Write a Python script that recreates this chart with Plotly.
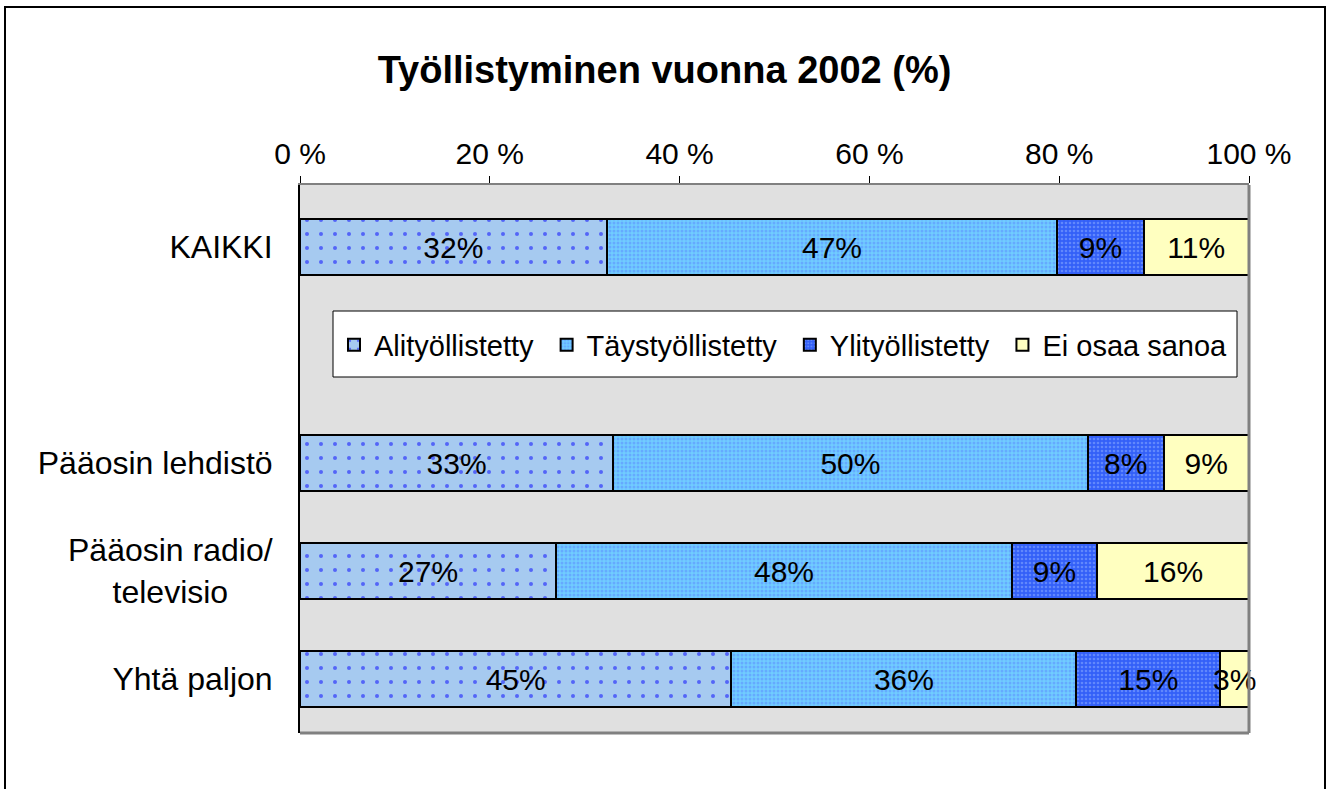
import plotly.graph_objects as go

categories = ["KAIKKI", "Pääosin lehdistö", "Pääosin radio/<br>televisio\u00a0\u00a0\u00a0\u00a0\u00a0", "Yhtä paljon"]
cat_pos = [0, 2, 3, 4]
series_names = ["Alityöllistetty", "Täystyöllistetty", "Ylityöllistetty", "Ei osaa sanoa"]
alityo = [32, 33, 27, 45]
taysty = [47, 50, 48, 36]
ylityo = [9, 8, 9, 15]
ei_osaa = [11, 9, 16, 3]
x_ticks = [0, 20, 40, 60, 80, 100]

title = "Työllistyminen vuonna 2002 (%)"
FONT = "Liberation Sans, Arial, sans-serif"

styles = [
    dict(bg="#a6caf0", shape=".", fg="#0000ff", size=14, sol=0.065),
    dict(bg="#70ccff", shape=".", fg="#5a88ff", size=4, sol=0.45),
    dict(bg="#3360f8", shape=".", fg="#8fb0ff", size=4, sol=0.35),
    dict(bg="#ffffc0", shape="", fg="#ffffc0", size=8, sol=0.1),
]

fig = go.Figure()
for name, vals, st in zip(series_names, [alityo, taysty, ylityo, ei_osaa], styles):
    fig.add_trace(go.Bar(
        name=name + "\u00a0",
        y=cat_pos,
        x=vals,
        orientation="h",
        width=0.52,
        text=[f"{v}%" for v in vals],
        textposition="inside",
        insidetextanchor="middle",
        textangle=0,
        constraintext="none",
        cliponaxis=False,
        textfont=dict(family=FONT, size=30, color="black"),
        marker=dict(
            color=st["bg"],
            line=dict(color="black", width=2),
            pattern=dict(shape=st["shape"], fgcolor=st["fg"], bgcolor=st["bg"],
                         size=st["size"], solidity=st["sol"], fillmode="overlay"),
        ),
        hoverinfo="skip",
    ))

L, R, T, B = 300, 80, 185, 56
W, H = 1329, 789
pw, ph = W - L - R, H - T - B

def px_x(p):
    return (p - L) / pw

def px_y(p):
    return (H - B - p) / ph

fig.update_layout(
    width=W, height=H,
    barmode="stack", barnorm="percent",
    paper_bgcolor="white", plot_bgcolor="#e0e0e0",
    margin=dict(l=L, r=R, t=T, b=B),
    font=dict(family=FONT, size=30, color="black"),
    title=dict(text=f"<b>{title}</b>", x=0.5, xref="container", xanchor="center",
               y=1 - 70 / H, yref="container", yanchor="middle",
               font=dict(family=FONT, size=38, color="black")),
    showlegend=True,
    legend=dict(orientation="h", x=px_x(334), y=px_y(345), xanchor="left", yanchor="middle",
                bgcolor="rgba(0,0,0,0)", borderwidth=0,
                font=dict(family=FONT, size=29, color="black"),
                traceorder="normal", itemwidth=30),
    xaxis=dict(side="top", range=[0, 100.0001], tickvals=x_ticks,
               ticktext=[f"{t} %" for t in x_ticks],
               showgrid=False, zeroline=False,
               ticks="outside", ticklen=7, tickcolor="black", tickwidth=1,
               showline=True, linecolor="#808080", linewidth=2,
               tickfont=dict(family=FONT, size=30)),
    yaxis=dict(range=[4.5, -0.575], tickvals=cat_pos, ticktext=categories,
               showgrid=False, zeroline=False, ticks="",
               showline=True, linecolor="black", linewidth=2,
               ticklabelstandoff=19,
               tickfont=dict(family=FONT, size=32)),
    shapes=[
        dict(type="rect", xref="paper", yref="paper",
             x0=px_x(333), x1=px_x(1237), y0=px_y(377), y1=px_y(311),
             line=dict(color="black", width=1), fillcolor="white", layer="below"),
        dict(type="line", xref="paper", yref="paper", x0=1, x1=1, y0=0, y1=1,
             line=dict(color="#808080", width=3)),
        dict(type="line", xref="paper", yref="paper", x0=0, x1=1, y0=0, y1=0,
             line=dict(color="#808080", width=3)),
        dict(type="rect", xref="paper", yref="paper",
             x0=px_x(5), x1=px_x(1325), y0=px_y(7), y1=px_y(800),
             line=dict(color="black", width=2), fillcolor="rgba(0,0,0,0)", layer="above"),
    ],
)

fig.write_html("out.html", post_script="document.body.style.margin='0';",
               config={"displayModeBar": False})
